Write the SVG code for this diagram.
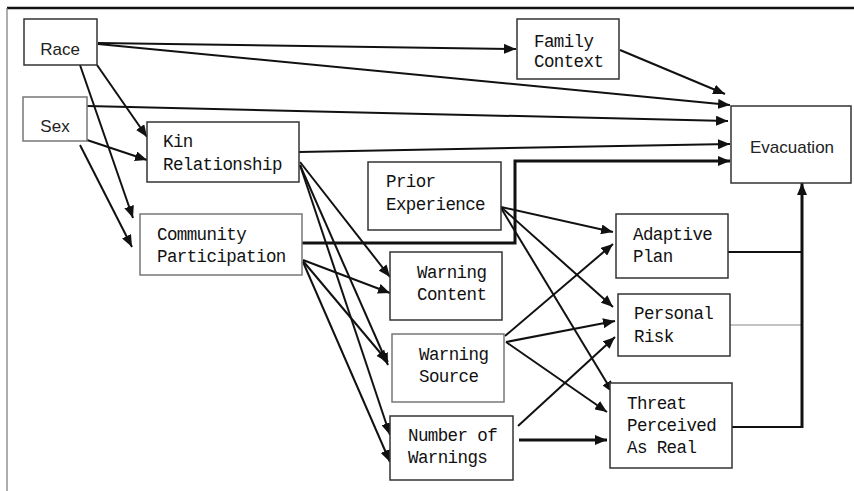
<svg xmlns="http://www.w3.org/2000/svg" width="854" height="491" viewBox="0 0 854 491">
<defs>
<marker id="ah" viewBox="0 0 12 10" refX="12" refY="5" markerWidth="12" markerHeight="10" markerUnits="userSpaceOnUse" orient="auto">
<path d="M0,0 L12,5 L0,10 Z" fill="#111"/>
</marker>
<style>
.box{fill:#fff;stroke:#333;stroke-width:1.5}
.lbox{fill:#fff;stroke:#777;stroke-width:1.5}
.m{font-family:"Liberation Mono","DejaVu Sans Mono",monospace;font-size:17.5px;letter-spacing:-0.6px;fill:#111}
.s{font-family:"Liberation Sans",Arial,sans-serif;font-size:17px;fill:#222}
.c line,.c polyline{stroke:#111;stroke-width:2;fill:none}
.c .a{marker-end:url(#ah)}
.c .t{stroke-width:3}
.c .g{stroke:#888;stroke-width:1.2}
</style>
</defs>
<rect width="854" height="491" fill="#fff"/>
<line x1="7" y1="8" x2="854" y2="8" stroke="#111" stroke-width="2.5"/>
<line x1="7" y1="8" x2="7" y2="491" stroke="#777" stroke-width="1.2"/>

<g id="connectors" class="c">
<line class="a" x1="98" y1="43" x2="516" y2="49"/>
<line class="a" x1="98" y1="44" x2="730" y2="105"/>
<line class="a" x1="97" y1="65" x2="147" y2="137"/>
<line class="a" x1="80" y1="65" x2="133" y2="218"/>
<line class="a" x1="87" y1="106" x2="728" y2="121"/>
<line class="a" x1="87" y1="140" x2="147" y2="160"/>
<line class="a" x1="80" y1="145" x2="132" y2="247"/>
<line class="a" x1="299" y1="152" x2="730" y2="144"/>
<line class="a" x1="620" y1="50" x2="725" y2="94"/>
<polyline class="a t" points="302,243 515,243 515,161 730,161"/>
<line class="a" x1="300" y1="162" x2="390" y2="277"/>
<line class="a" x1="300" y1="165" x2="388" y2="365"/>
<line class="a" x1="300" y1="165" x2="390" y2="435"/>
<line class="a" x1="303" y1="260" x2="390" y2="293"/>
<line class="a" x1="303" y1="261" x2="388" y2="362"/>
<line class="a" x1="303" y1="262" x2="390" y2="462"/>
<line class="a" x1="501" y1="207" x2="613" y2="232"/>
<line class="a" x1="501" y1="207" x2="613" y2="307"/>
<line class="a" x1="501" y1="208" x2="613" y2="393"/>
<line class="a" x1="505" y1="336" x2="613" y2="244"/>
<line class="a" x1="506" y1="342" x2="615" y2="321"/>
<line class="a" x1="506" y1="342" x2="607" y2="412"/>
<line class="a" x1="518" y1="426" x2="615" y2="337"/>
<line class="a t" x1="519" y1="440" x2="607" y2="440"/>
<line x1="728" y1="252" x2="802" y2="252"/>
<line class="g" x1="730" y1="325" x2="802" y2="325"/>
<line x1="732" y1="427" x2="802" y2="427"/>
<line class="a t" x1="802" y1="428" x2="802" y2="183"/>
</g>

<g id="race"><rect class="box" x="24" y="19" width="73" height="46"/><text class="s" x="60" y="55" text-anchor="middle">Race</text></g>
<g id="sex"><rect class="lbox" x="23" y="97" width="64" height="44"/><text class="s" x="55" y="132" text-anchor="middle">Sex</text></g>
<g id="kin"><rect class="box" x="147" y="122" width="152" height="60"/><text class="m" x="163" y="147">Kin</text><text class="m" x="163" y="170">Relationship</text></g>
<g id="community"><rect class="lbox" x="140" y="214" width="162" height="61"/><text class="m" x="157" y="240">Community</text><text class="m" x="157" y="262">Participation</text></g>
<g id="family"><rect class="box" x="517" y="19" width="102" height="60"/><text class="m" x="534" y="47">Family</text><text class="m" x="534" y="67">Context</text></g>
<g id="prior"><rect class="box" x="368" y="162" width="133" height="68"/><text class="m" x="386" y="187">Prior</text><text class="m" x="386" y="210">Experience</text></g>
<g id="wcontent"><rect class="box" x="390" y="252" width="112" height="68"/><text class="m" x="417" y="278">Warning</text><text class="m" x="417" y="300">Content</text></g>
<g id="wsource"><rect class="lbox" x="392" y="334" width="112" height="68"/><text class="m" x="419" y="360">Warning</text><text class="m" x="419" y="382">Source</text></g>
<g id="nwarnings"><rect class="box" x="390" y="416" width="123" height="64"/><text class="m" x="408" y="441">Number of</text><text class="m" x="408" y="463">Warnings</text></g>
<g id="adaptive"><rect class="box" x="616" y="214" width="112" height="64"/><text class="m" x="633" y="240">Adaptive</text><text class="m" x="633" y="262">Plan</text></g>
<g id="personal"><rect class="box" x="618" y="294" width="112" height="62"/><text class="m" x="634" y="319">Personal</text><text class="m" x="634" y="342">Risk</text></g>
<g id="threat"><rect class="box" x="610" y="383" width="122" height="85"/><text class="m" x="627" y="409">Threat</text><text class="m" x="627" y="431">Perceived</text><text class="m" x="627" y="453">As Real</text></g>
<g id="evacuation"><rect class="box" x="731" y="106" width="120" height="77"/><text class="s" x="792" y="153" text-anchor="middle" font-size="18">Evacuation</text></g>
</svg>
